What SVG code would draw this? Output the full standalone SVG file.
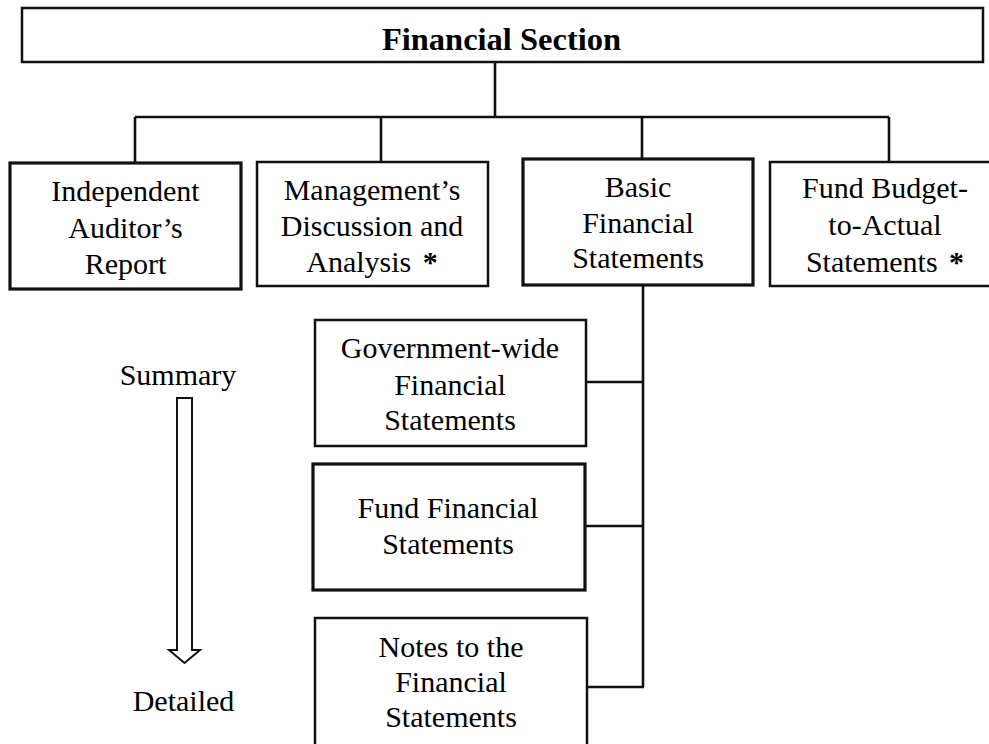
<svg xmlns="http://www.w3.org/2000/svg" width="989" height="744" viewBox="0 0 989 744">
<style>
.box{fill:#fff;stroke:#111;stroke-width:2.5}
.thick{stroke-width:3.2}
.ln{fill:none;stroke:#111;stroke-width:2.6}
text{font-family:"Liberation Serif","Times New Roman",serif;font-size:30px;fill:#000;text-anchor:middle}
.title{font-weight:bold;font-size:32.5px}
.b{font-weight:bold}
</style>
<rect width="989" height="744" fill="#fff"/>
<g id="connectors">
<path class="ln" d="M495,62 V117 M135,117 H889 M135,117 V163 M381,117 V162 M642,117 V159 M889,117 V161"/>
<path class="ln" d="M643,285 V687 M586,382 H643 M585,526 H643 M587,687 H644"/>
</g>
<g id="financial-section">
<rect class="box" x="22" y="8" width="961" height="54"/>
<text class="title" x="501.5" y="50">Financial Section</text>
</g>
<g id="auditor">
<rect class="box thick" x="10" y="163" width="231" height="126"/>
<text x="125.5" y="201">Independent</text>
<text x="125.5" y="238">Auditor’s</text>
<text x="125.5" y="274">Report</text>
</g>
<g id="mdna">
<rect class="box" x="257" y="162" width="231" height="124"/>
<text x="372" y="200">Management’s</text>
<text x="372" y="236">Discussion and</text>
<text x="372" y="272">Analysis <tspan class="b" dx="4">*</tspan></text>
</g>
<g id="basic">
<rect class="box thick" x="523" y="159" width="230" height="126"/>
<text x="638" y="197">Basic</text>
<text x="638" y="233">Financial</text>
<text x="638" y="268">Statements</text>
</g>
<g id="budget">
<rect class="box" x="770" y="162" width="225" height="124"/>
<text x="885" y="198">Fund Budget-</text>
<text x="885" y="235">to-Actual</text>
<text x="885" y="272">Statements <tspan class="b" dx="4">*</tspan></text>
</g>
<g id="gov-wide">
<rect class="box" x="315" y="320" width="271" height="126"/>
<text x="450" y="358">Government-wide</text>
<text x="450" y="395">Financial</text>
<text x="450" y="430">Statements</text>
</g>
<g id="fund">
<rect class="box thick" x="313" y="464" width="272" height="126"/>
<text x="448" y="518">Fund Financial</text>
<text x="448" y="554">Statements</text>
</g>
<g id="notes">
<rect class="box" x="315" y="618" width="272" height="130"/>
<text x="451" y="657">Notes to the</text>
<text x="451" y="692">Financial</text>
<text x="451" y="727">Statements</text>
</g>
<g id="scale">
<text x="178" y="385">Summary</text>
<path d="M177,398 H192 V650 H200 L184.5,663 L169,650 H177 Z" fill="#fff" stroke="#111" stroke-width="2"/>
<text x="183.5" y="711">Detailed</text>
</g>
</svg>
